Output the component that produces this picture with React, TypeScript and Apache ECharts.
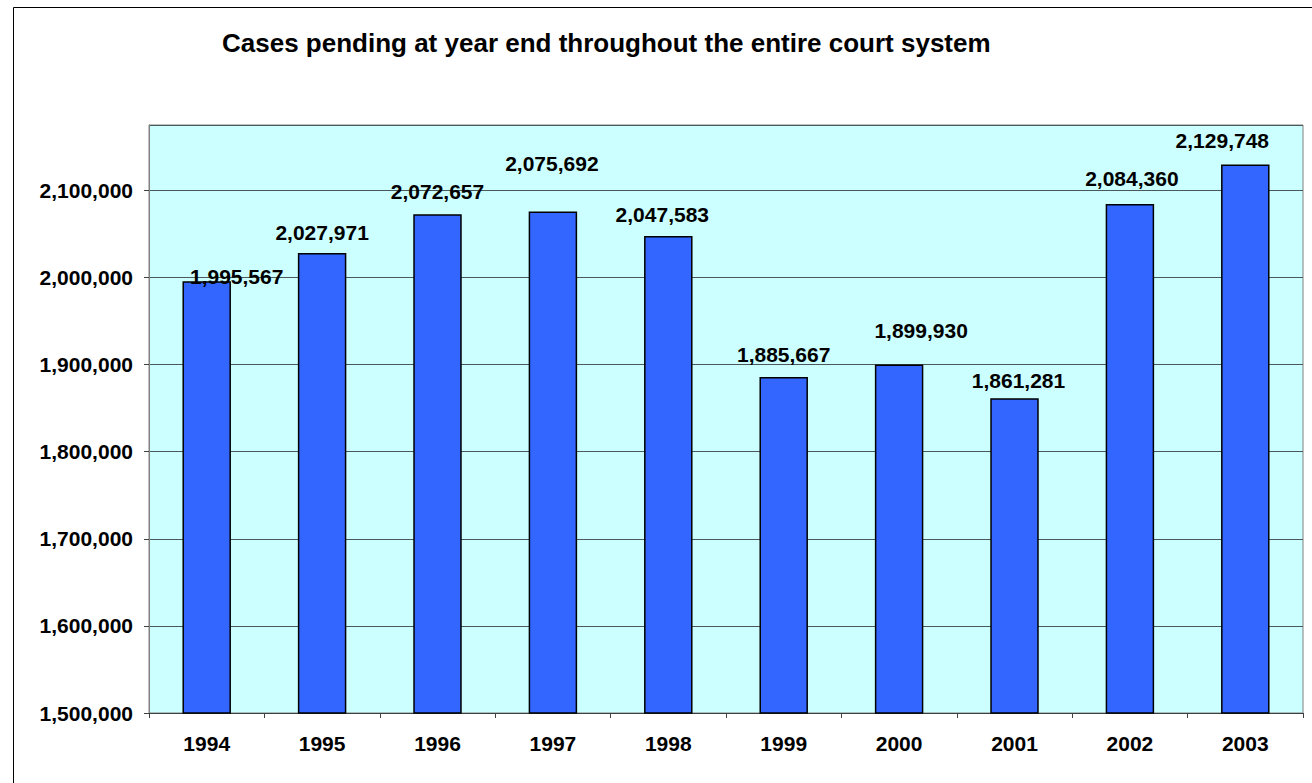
import React, { useEffect, useRef } from "react";
import * as echarts from "echarts";

const years = ["1994", "1995", "1996", "1997", "1998", "1999", "2000", "2001", "2002", "2003"];
const pending = [1995567, 2027971, 2072657, 2075692, 2047583, 1885667, 1899930, 1861281, 2084360, 2129748];
const titleText = "Cases pending at year end throughout the entire court system";
// label nudges [dx, dy] as placed in the original chart
const labelNudges: [number, number][] = [
  [30, 5], [0, -11], [0, -13], [-1, -38], [-6, -11],
  [0, -13], [22, -24], [4, -8], [2, -15], [-23, -14],
];

const fmt = (v: number) => v.toLocaleString("en-US");
const FONT = "Arial, 'Liberation Sans', Helvetica, sans-serif";

export default function App() {
  const ref = useRef<HTMLDivElement>(null);
  useEffect(() => {
    const chart = echarts.init(ref.current!, undefined, { renderer: "svg" });
    chart.setOption({
      animation: false,
      backgroundColor: "#ffffff",
      textStyle: { fontFamily: FONT },
      title: {
        text: titleText,
        left: 222,
        top: 30,
        padding: 0,
        textStyle: { fontFamily: FONT, fontWeight: "bold", fontSize: 26, color: "#000" },
      },
      graphic: [
        {
          type: "rect",
          shape: { x: 13.5, y: 7.5, width: 1400, height: 900 },
          style: { fill: "none", stroke: "#000", lineWidth: 1 },
          silent: true,
        },
      ],
      grid: {
        left: 149,
        top: 125,
        right: 9,
        bottom: 70,
        show: true,
        backgroundColor: "#CCFFFF",
        borderColor: "#808080",
        borderWidth: 1,
      },
      xAxis: {
        type: "category",
        data: years,
        axisLine: { lineStyle: { color: "#404040", width: 1 } },
        axisTick: { show: true, length: 5, lineStyle: { color: "#404040" } },
        axisLabel: { fontFamily: FONT, fontWeight: "bold", fontSize: 21, color: "#000", margin: 20 },
      },
      yAxis: {
        type: "value",
        min: 1500000,
        max: 2175000,
        interval: 100000,
        axisLine: { show: true, lineStyle: { color: "#808080" } },
        axisTick: { show: true, length: 5, lineStyle: { color: "#404040" } },
        splitLine: { show: true, lineStyle: { color: "#4a5a5a", width: 1 } },
        axisLabel: {
          fontFamily: FONT,
          fontWeight: "bold",
          fontSize: 21,
          color: "#000",
          margin: 16,
          showMaxLabel: false,
          formatter: (v: number) => (v % 100000 === 0 ? fmt(v) : ""),
        },
      },
      series: [
        {
          type: "bar",
          barWidth: "42%",
          data: pending.map((v, i) => ({
            value: v,
            label: { offset: labelNudges[i] },
          })),
          itemStyle: { color: "#3366FF", borderColor: "#000", borderWidth: 1.5 },
          label: {
            show: true,
            position: "top",
            distance: 0,
            lineHeight: 20,
            fontFamily: FONT,
            fontWeight: "bold",
            fontSize: 21,
            color: "#000",
            formatter: (p: any) => fmt(p.value),
          },
        },
      ],
    });
    return () => chart.dispose();
  }, []);
  return (
    <div
      ref={ref}
      style={{ position: "absolute", left: 0, top: 0, width: 1312, height: 783 }}
    />
  );
}
